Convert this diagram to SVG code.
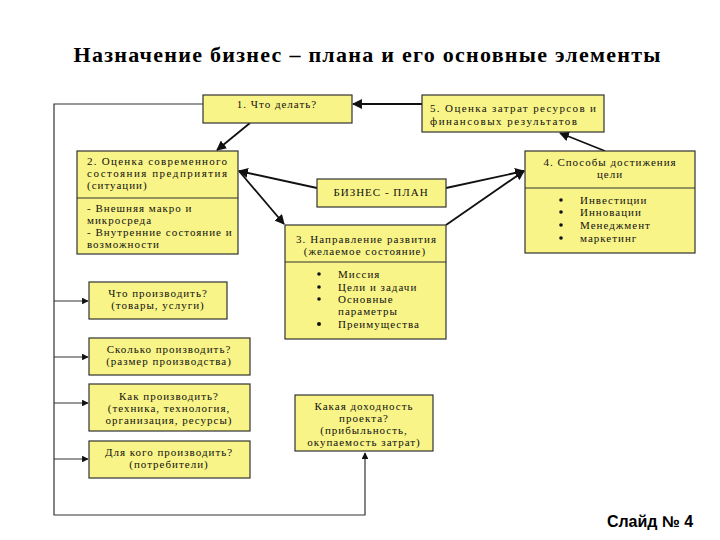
<svg xmlns="http://www.w3.org/2000/svg" width="720" height="540" viewBox="0 0 720 540">
<style>
.b{fill:#F8F488;stroke:#333;stroke-width:1.2}
.d{stroke:#333;stroke-width:1}
.t{font-family:"Liberation Serif","Times New Roman",serif;font-size:11px;letter-spacing:1px;fill:#111}
.c{text-anchor:middle}
.ln{stroke:#111;stroke-width:1.8;fill:none}
.th{stroke:#333;stroke-width:1.2;fill:none}
</style>
<defs>
<marker id="a" viewBox="0 0 10 10" refX="9" refY="5" markerWidth="5.5" markerHeight="5.5" orient="auto-start-reverse" markerUnits="strokeWidth">
<path d="M0,0 L10,5 L0,10 z" fill="#111"/>
</marker>
</defs>
<rect width="720" height="540" fill="#fff"/>
<text x="367" y="62" text-anchor="middle" font-family="Liberation Serif,serif" font-weight="bold" font-size="22" textLength="587" lengthAdjust="spacing" fill="#000">Назначение бизнес – плана и его основные элементы</text>

<g id="connectors">
<path class="th" d="M203,104 H54 V515 H365 V453" marker-end="url(#a)"/>
<line class="th" x1="54" y1="301" x2="88" y2="301" marker-end="url(#a)"/>
<line class="th" x1="54" y1="357" x2="88" y2="357" marker-end="url(#a)"/>
<line class="th" x1="54" y1="403" x2="88" y2="403" marker-end="url(#a)"/>
<line class="th" x1="54" y1="459" x2="88" y2="459" marker-end="url(#a)"/>
<line class="ln" x1="422" y1="104" x2="353" y2="104" marker-end="url(#a)"/>
<line class="ln" x1="250" y1="123" x2="217" y2="150" marker-end="url(#a)"/>
<line class="ln" x1="317" y1="188" x2="239" y2="171" marker-end="url(#a)"/>
<line class="ln" x1="239" y1="171" x2="284" y2="224" marker-end="url(#a)"/>
<line class="ln" x1="446" y1="188" x2="524" y2="171" marker-end="url(#a)"/>
<line class="ln" x1="446" y1="225" x2="524" y2="171" marker-end="url(#a)"/>
<line class="ln" x1="605" y1="151" x2="560" y2="133" marker-end="url(#a)"/>
</g>

<g id="n1">
<rect class="b" x="203" y="95" width="149" height="28"/>
<text class="t c" x="277" y="108">1. Что делать?</text>
</g>

<g id="n5">
<rect class="b" x="422" y="95" width="182" height="37"/>
<text class="t" x="430" y="112" textLength="167" lengthAdjust="spacing">5. Оценка затрат ресурсов и</text>
<text class="t" x="430" y="125" textLength="148" lengthAdjust="spacing">финансовых результатов</text>
</g>

<g id="n2">
<rect class="b" x="77" y="151" width="161" height="103"/>
<line class="d" x1="77" y1="198" x2="238" y2="198"/>
<text class="t" x="87" y="165" textLength="141" lengthAdjust="spacing">2. Оценка современного</text>
<text class="t" x="87" y="177" textLength="141" lengthAdjust="spacing">состояния предприятия</text>
<text class="t" x="87" y="189">(ситуации)</text>
<text class="t" x="87" y="212">- Внешняя макро и</text>
<text class="t" x="87" y="224">микросреда</text>
<text class="t" x="87" y="236">- Внутренние состояние и</text>
<text class="t" x="87" y="248">возможности</text>
</g>

<g id="nbp">
<rect class="b" x="317" y="179" width="129" height="28"/>
<text class="t c" x="381" y="196">БИЗНЕС - ПЛАН</text>
</g>

<g id="n4">
<rect class="b" x="525" y="151" width="170" height="102"/>
<line class="d" x1="525" y1="188" x2="695" y2="188"/>
<text class="t c" x="610" y="166">4. Способы достижения</text>
<text class="t c" x="610" y="178">цели</text>
<g class="t">
<circle cx="561" cy="200" r="1.8" fill="#111"/><text x="580" y="204">Инвестиции</text>
<circle cx="561" cy="212" r="1.8" fill="#111"/><text x="580" y="216">Инновации</text>
<circle cx="561" cy="225" r="1.8" fill="#111"/><text x="580" y="229">Менеджмент</text>
<circle cx="561" cy="238" r="1.8" fill="#111"/><text x="580" y="242">маркетинг</text>
</g>
</g>

<g id="n3">
<rect class="b" x="285" y="225" width="161" height="114"/>
<line class="d" x1="285" y1="262" x2="446" y2="262"/>
<text class="t" x="296" y="243" textLength="141" lengthAdjust="spacing">3. Направление развития</text>
<text class="t c" x="365" y="255">(желаемое состояние)</text>
<g class="t">
<circle cx="319" cy="274" r="1.8" fill="#111"/><text x="338" y="278">Миссия</text>
<circle cx="319" cy="287" r="1.8" fill="#111"/><text x="338" y="291">Цели и задачи</text>
<circle cx="319" cy="299" r="1.8" fill="#111"/><text x="338" y="303">Основные</text>
<text x="338" y="315">параметры</text>
<circle cx="319" cy="324" r="2" fill="#111"/><text x="338" y="328">Преимущества</text>
</g>
</g>

<g id="q1">
<rect class="b" x="89" y="282" width="138" height="37"/>
<text class="t c" x="158" y="297">Что производить?</text>
<text class="t c" x="158" y="309">(товары, услуги)</text>
</g>
<g id="q2">
<rect class="b" x="89" y="338" width="161" height="37"/>
<text class="t c" x="169" y="353">Сколько производить?</text>
<text class="t c" x="169" y="365">(размер производства)</text>
</g>
<g id="q3">
<rect class="b" x="89" y="384" width="161" height="47"/>
<text class="t c" x="169" y="400">Как производить?</text>
<text class="t c" x="169" y="412">(техника, технология,</text>
<text class="t c" x="169" y="424">организация, ресурсы)</text>
</g>
<g id="q4">
<rect class="b" x="89" y="441" width="161" height="37"/>
<text class="t c" x="169" y="456">Для кого производить?</text>
<text class="t c" x="169" y="468">(потребители)</text>
</g>
<g id="q5">
<rect class="b" x="295" y="395" width="138" height="56"/>
<text class="t c" x="364" y="410">Какая доходность</text>
<text class="t c" x="364" y="422">проекта?</text>
<text class="t c" x="364" y="434">(прибыльность,</text>
<text class="t c" x="364" y="446">окупаемость затрат)</text>
</g>

<text x="650" y="527" text-anchor="middle" font-family="Liberation Sans,Arial,sans-serif" font-weight="bold" font-size="16" fill="#000">Слайд № 4</text>
</svg>
